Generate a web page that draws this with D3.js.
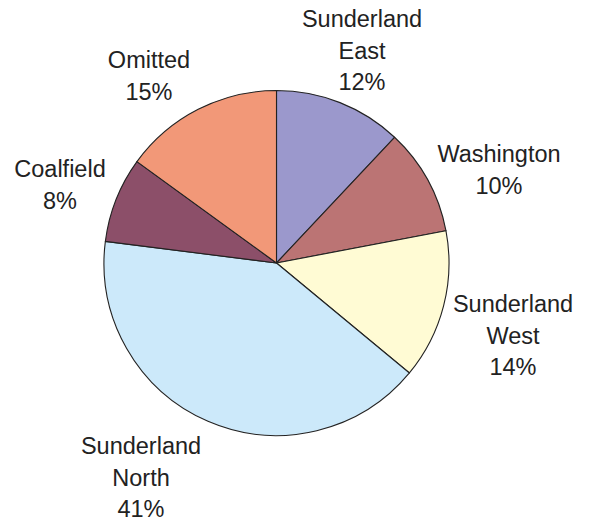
<!DOCTYPE html>
<html><head><meta charset="utf-8">
<script src="https://cdn.jsdelivr.net/npm/d3@7"></script>
<style>body{margin:0;background:#fff}svg{display:block}</style>
</head><body>
<script>
const categories = ["Sunderland East","Washington","Sunderland West","Sunderland North","Coalfield","Omitted"];
const values = [12,10,14,41,8,15];
const colors = ["#9b98cc","#bb7474","#fffbd4","#cce9fa","#8c4f69","#f29878"];
const labelLines = [["Sunderland","East","12%"],["Washington","10%"],["Sunderland","West","14%"],["Sunderland","North","41%"],["Coalfield","8%"],["Omitted","15%"]];
const labelPos = [[362,27],[499,162],[513,312],[141,454],[60,177],[149,68]];

const W=591,H=522, cx=276.5, cy=263, R=172.5;
const svg=d3.select("body").append("svg").attr("width",W).attr("height",H);
const data=categories.map((c,i)=>({c,v:values[i],i}));
const pie=d3.pie().value(d=>d.v).sort(null);
const arc=d3.arc().innerRadius(0).outerRadius(R);
const g=svg.append("g").attr("transform",`translate(${cx},${cy})`);
g.selectAll("path").data(pie(data)).join("path")
 .attr("d",arc).attr("fill",d=>colors[d.data.i])
 .attr("stroke","#222").attr("stroke-width",1.1).attr("stroke-linejoin","round");

const lg=svg.append("g").attr("font-family","Liberation Sans, Arial, sans-serif")
 .attr("font-size",23.5).attr("fill","#222").attr("text-anchor","middle");
labelLines.forEach((lines,i)=>{
  const t=lg.append("text").attr("x",labelPos[i][0]).attr("y",labelPos[i][1]);
  lines.forEach((l,j)=>t.append("tspan").attr("x",labelPos[i][0]).attr("dy",j?31.5:0).text(l));
});
</script>
</body></html>
